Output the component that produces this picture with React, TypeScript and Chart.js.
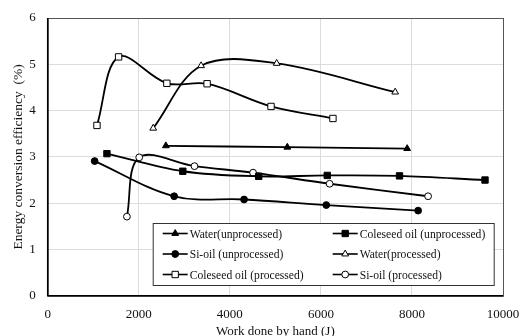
import React, { useEffect, useRef } from "react";
import { Chart, registerables } from "chart.js";
import { drawPoint } from "chart.js/helpers";

Chart.register(...registerables);

const waterUnX = [2595, 5263, 7895];
const waterUnY = [3.24, 3.21, 3.18];
const coleUnX = [1301, 2968, 4635, 6140, 7727, 9605];
const coleUnY = [3.07, 2.69, 2.58, 2.6, 2.59, 2.5];
const siUnX = [1031, 2778, 4313, 6118, 8136];
const siUnY = [2.91, 2.15, 2.08, 1.96, 1.84];
const waterPrX = [2317, 3370, 5029, 7632];
const waterPrY = [3.62, 4.97, 5.02, 4.4];
const colePrX = [1082, 1557, 2617, 3501, 4905, 6265];
const colePrY = [3.68, 5.16, 4.59, 4.58, 4.09, 3.83];
const siPrX = [1740, 2010, 3224, 4510, 6192, 8355];
const siPrY = [1.71, 2.99, 2.8, 2.66, 2.42, 2.15];

const seriesNames = [
  "Water(unprocessed)",
  "Coleseed oil (unprocessed)",
  "Si-oil (unprocessed)",
  "Water(processed)",
  "Coleseed oil (processed)",
  "Si-oil (processed)",
];
const xTicks = [0, 2000, 4000, 6000, 8000, 10000];
const yTicks = [0, 1, 2, 3, 4, 5, 6];

const FONT = "'Liberation Serif', 'Times New Roman', serif";

const pts = (xs: number[], ys: number[]) => xs.map((x, i) => ({ x, y: ys[i] }));

type Sty = { pointStyle: string; fill: string; radius: number };
const styles: Sty[] = [
  { pointStyle: "triangle", fill: "#000", radius: 3.9 },
  { pointStyle: "rect", fill: "#000", radius: 4.5 },
  { pointStyle: "circle", fill: "#000", radius: 3.4 },
  { pointStyle: "triangle", fill: "#fff", radius: 3.9 },
  { pointStyle: "rect", fill: "#fff", radius: 4.5 },
  { pointStyle: "circle", fill: "#fff", radius: 3.4 },
];

const legendPlugin = {
  id: "insideLegend",
  afterDraw(chart: any) {
    const { ctx, chartArea } = chart;
    const left = chartArea.left + 105;
    const top = chartArea.top + 205;
    const w = 341;
    const h = 62;
    ctx.save();
    ctx.fillStyle = "#fff";
    ctx.fillRect(left, top, w, h);
    ctx.strokeStyle = "#333";
    ctx.lineWidth = 1;
    ctx.strokeRect(left + 0.5, top + 0.5, w, h);
    const rows = [10.5, 31, 51.5];
    const cols = [10, 180];
    ctx.font = `11.6px ${FONT}`;
    ctx.textBaseline = "middle";
    chart.data.datasets.forEach((ds: any, i: number) => {
      const cx = left + cols[i % 2];
      const cy = top + rows[Math.floor(i / 2)];
      ctx.strokeStyle = "#000";
      ctx.lineWidth = 1.6;
      ctx.beginPath();
      ctx.moveTo(cx, cy);
      ctx.lineTo(cx + 25, cy);
      ctx.stroke();
      const st = styles[i];
      ctx.fillStyle = st.fill;
      ctx.lineWidth = 1;
      ctx.strokeStyle = "#000";
      drawPoint(ctx, { pointStyle: st.pointStyle as any, radius: st.radius, rotation: 0, borderWidth: 1 }, cx + 12.5, cy);
      ctx.fillStyle = "#111";
      ctx.fillText(ds.label, cx + 27, cy + 1);
    });
    ctx.restore();
  },
};

const frame = {
  id: "frame",
  afterDatasetsDraw(chart: any) {
    const { ctx, chartArea: a } = chart;
    ctx.save();
    ctx.strokeStyle = "#555";
    ctx.lineWidth = 1;
    ctx.strokeRect(a.left + 0.5, a.top + 0.5, a.right - a.left, a.bottom - a.top);
    ctx.strokeStyle = "#000";
    ctx.lineWidth = 1.5;
    ctx.beginPath();
    ctx.moveTo(a.left, a.top);
    ctx.lineTo(a.left, a.bottom);
    ctx.lineTo(a.right, a.bottom);
    ctx.stroke();
    ctx.restore();
  },
};

export default function App() {
  const ref = useRef<HTMLCanvasElement>(null);
  useEffect(() => {
    document.body.style.margin = "0";
    const data = [
      pts(waterUnX, waterUnY),
      pts(coleUnX, coleUnY),
      pts(siUnX, siUnY),
      pts(waterPrX, waterPrY),
      pts(colePrX, colePrY),
      pts(siPrX, siPrY),
    ];
    const chart = new Chart(ref.current!, {
      type: "line",
      data: {
        datasets: data.map((d, i) => ({
          label: seriesNames[i],
          data: d,
          borderColor: "#000",
          borderWidth: 1.8,
          backgroundColor: styles[i].fill,
          pointBackgroundColor: styles[i].fill,
          pointBorderColor: "#000",
          pointBorderWidth: 1,
          pointStyle: styles[i].pointStyle as any,
          pointRadius: styles[i].radius,
          tension: 0.35,
          fill: false,
        })),
      },
      options: {
        animation: false,
        responsive: false,
        layout: { padding: { top: 18, right: 23, left: 10, bottom: 0 } },
        plugins: { legend: { display: false }, tooltip: { enabled: false } },
        scales: {
          x: {
            type: "linear",
            min: 0,
            max: 10000,
            afterBuildTicks: (s: any) => {
              s.ticks = xTicks.map((v) => ({ value: v }));
            },
            afterFit: (s: any) => {
              s.paddingRight = 0;
              s.paddingLeft = 0;
            },
            grid: { color: "#dcdcdc", lineWidth: 1, drawTicks: false },
            border: { display: false },
            ticks: { color: "#111", font: { family: FONT, size: 13 }, padding: 11, maxRotation: 0, callback: (v: any) => String(v) },
            title: { display: true, text: "Work done by hand (J)", color: "#111", font: { family: FONT, size: 13 }, padding: { top: -10, bottom: -3 } },
          },
          y: {
            type: "linear",
            min: 0,
            max: 6,
            afterBuildTicks: (s: any) => {
              s.ticks = yTicks.map((v) => ({ value: v }));
            },
            afterFit: (s: any) => {
              s.paddingTop = 0;
              s.paddingBottom = 0;
            },
            grid: { color: "#dcdcdc", lineWidth: 1, drawTicks: false },
            border: { display: false },
            ticks: { color: "#111", font: { family: FONT, size: 13 }, padding: 12, callback: (v: any) => String(v) },
            title: { display: true, text: "Energy conversion efficiency  (%)", color: "#111", font: { family: FONT, size: 13.5 }, padding: { top: 0, bottom: -9 } },
          },
        },
      },
      plugins: [frame, legendPlugin],
    });
    return () => chart.destroy();
  }, []);
  return (
    <div style={{ width: 526, height: 336 }}>
      <canvas ref={ref} width={526} height={336} style={{ display: "block" }} />
    </div>
  );
}
